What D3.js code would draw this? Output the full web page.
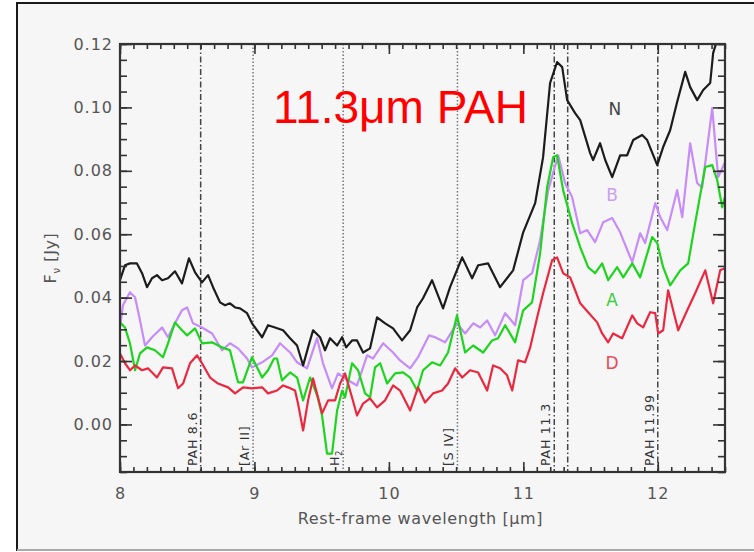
<!DOCTYPE html>
<html>
<head>
<meta charset="utf-8">
<script src="https://cdn.jsdelivr.net/npm/d3@7"></script>
<style>
  body { margin: 0; background: #fff; }
  svg { display: block; }
</style>
</head>
<body>
<div id="chart-area"></div>
<script>
// spectra: wavelength (micron) and flux (Jy)
const nWave = [8.000, 8.037, 8.074, 8.126, 8.164, 8.201, 8.238, 8.275, 8.313, 8.357, 8.409, 8.461, 8.513, 8.558, 8.610, 8.655, 8.692, 8.744, 8.781, 8.818, 8.856, 8.893, 8.945, 8.982, 9.057, 9.101, 9.153, 9.213, 9.265, 9.317, 9.362, 9.399, 9.436, 9.488, 9.525, 9.562, 9.615, 9.652, 9.682, 9.726, 9.763, 9.808, 9.860, 9.912, 9.972, 10.031, 10.098, 10.158, 10.210, 10.254, 10.321, 10.403, 10.455, 10.545, 10.619, 10.664, 10.738, 10.827, 10.924, 10.999, 11.088, 11.147, 11.199, 11.251, 11.289, 11.326, 11.385, 11.423, 11.497, 11.519, 11.571, 11.609, 11.661, 11.720, 11.772, 11.817, 11.884, 11.921, 11.996, 12.040, 12.092, 12.144, 12.204, 12.241, 12.293, 12.338, 12.390, 12.412, 12.442]
const nFlux = [0.0455, 0.0502, 0.0508, 0.0508, 0.0477, 0.0433, 0.0461, 0.0471, 0.0455, 0.0461, 0.0483, 0.0445, 0.0524, 0.0480, 0.0448, 0.0471, 0.0433, 0.0385, 0.0376, 0.0382, 0.0369, 0.0366, 0.0351, 0.0319, 0.0275, 0.0313, 0.0306, 0.0297, 0.0272, 0.0249, 0.0186, 0.0243, 0.0297, 0.0275, 0.0234, 0.0272, 0.0249, 0.0275, 0.0243, 0.0265, 0.0265, 0.0227, 0.0240, 0.0338, 0.0319, 0.0303, 0.0265, 0.0297, 0.0369, 0.0398, 0.0455, 0.0366, 0.0433, 0.0527, 0.0461, 0.0502, 0.0508, 0.0433, 0.0486, 0.0606, 0.0698, 0.0843, 0.1077, 0.1143, 0.1127, 0.1023, 0.0982, 0.0960, 0.0856, 0.0834, 0.0887, 0.0834, 0.0780, 0.0849, 0.0849, 0.0897, 0.0913, 0.0897, 0.0818, 0.0875, 0.0928, 0.1017, 0.1112, 0.1064, 0.1023, 0.1055, 0.1077, 0.1172, 0.1213]

const bWave = [8.000, 8.022, 8.074, 8.112, 8.149, 8.186, 8.238, 8.313, 8.357, 8.409, 8.461, 8.499, 8.543, 8.610, 8.685, 8.759, 8.818, 8.878, 8.945, 8.982, 9.057, 9.131, 9.190, 9.265, 9.317, 9.391, 9.466, 9.510, 9.577, 9.622, 9.674, 9.763, 9.838, 9.882, 9.957, 10.031, 10.083, 10.158, 10.217, 10.299, 10.344, 10.418, 10.507, 10.567, 10.627, 10.679, 10.731, 10.790, 10.865, 10.939, 10.999, 11.065, 11.125, 11.185, 11.259, 11.311, 11.363, 11.423, 11.475, 11.534, 11.594, 11.661, 11.720, 11.810, 11.869, 11.906, 11.981, 12.018, 12.070, 12.144, 12.182, 12.241, 12.293, 12.330, 12.405, 12.449, 12.500]
const bFlux = [0.0306, 0.0376, 0.0417, 0.0401, 0.0328, 0.0249, 0.0275, 0.0306, 0.0275, 0.0319, 0.0360, 0.0369, 0.0319, 0.0306, 0.0287, 0.0234, 0.0256, 0.0240, 0.0208, 0.0180, 0.0196, 0.0218, 0.0256, 0.0227, 0.0196, 0.0177, 0.0272, 0.0193, 0.0114, 0.0161, 0.0145, 0.0123, 0.0218, 0.0208, 0.0256, 0.0227, 0.0202, 0.0177, 0.0212, 0.0281, 0.0275, 0.0259, 0.0319, 0.0287, 0.0319, 0.0306, 0.0328, 0.0281, 0.0351, 0.0313, 0.0455, 0.0477, 0.0581, 0.0739, 0.0849, 0.0761, 0.0717, 0.0603, 0.0613, 0.0575, 0.0638, 0.0651, 0.0606, 0.0512, 0.0603, 0.0572, 0.0698, 0.0654, 0.0613, 0.0739, 0.0654, 0.0887, 0.0761, 0.0748, 0.0998, 0.0780, 0.0827]

const aWave = [8.000, 8.037, 8.074, 8.112, 8.149, 8.201, 8.260, 8.320, 8.357, 8.409, 8.461, 8.499, 8.558, 8.610, 8.685, 8.759, 8.818, 8.878, 8.915, 8.982, 9.057, 9.101, 9.146, 9.168, 9.205, 9.265, 9.317, 9.362, 9.414, 9.466, 9.503, 9.540, 9.577, 9.615, 9.652, 9.674, 9.726, 9.771, 9.823, 9.860, 9.897, 9.935, 9.987, 10.046, 10.106, 10.158, 10.210, 10.254, 10.321, 10.381, 10.440, 10.507, 10.567, 10.627, 10.701, 10.768, 10.812, 10.865, 10.939, 10.999, 11.065, 11.125, 11.177, 11.222, 11.251, 11.296, 11.363, 11.423, 11.482, 11.534, 11.586, 11.631, 11.698, 11.743, 11.810, 11.869, 11.958, 11.996, 12.040, 12.092, 12.167, 12.226, 12.278, 12.353, 12.405, 12.442, 12.479, 12.500]
const aFlux = [0.0322, 0.0306, 0.0256, 0.0171, 0.0224, 0.0243, 0.0234, 0.0212, 0.0256, 0.0322, 0.0297, 0.0281, 0.0303, 0.0256, 0.0259, 0.0243, 0.0234, 0.0133, 0.0133, 0.0212, 0.0148, 0.0171, 0.0208, 0.0208, 0.0139, 0.0164, 0.0148, 0.0076, 0.0148, 0.0092, 0.0028, -0.0092, -0.0092, 0.0044, 0.0107, 0.0085, 0.0193, 0.0171, 0.0098, 0.0085, 0.0180, 0.0193, 0.0129, 0.0161, 0.0164, 0.0148, 0.0107, 0.0171, 0.0196, 0.0186, 0.0227, 0.0344, 0.0227, 0.0249, 0.0227, 0.0265, 0.0272, 0.0313, 0.0259, 0.0360, 0.0385, 0.0540, 0.0748, 0.0843, 0.0849, 0.0739, 0.0635, 0.0559, 0.0496, 0.0477, 0.0508, 0.0455, 0.0496, 0.0464, 0.0508, 0.0464, 0.0591, 0.0572, 0.0496, 0.0439, 0.0486, 0.0508, 0.0635, 0.0812, 0.0818, 0.0771, 0.0685, 0.0717]

const dWave = [8.000, 8.037, 8.074, 8.112, 8.164, 8.208, 8.275, 8.320, 8.387, 8.432, 8.469, 8.521, 8.573, 8.610, 8.670, 8.729, 8.804, 8.856, 8.915, 8.982, 9.057, 9.101, 9.168, 9.213, 9.250, 9.302, 9.324, 9.362, 9.399, 9.436, 9.473, 9.503, 9.548, 9.600, 9.637, 9.674, 9.726, 9.763, 9.808, 9.860, 9.912, 9.972, 10.031, 10.083, 10.158, 10.217, 10.269, 10.329, 10.396, 10.440, 10.493, 10.545, 10.604, 10.664, 10.731, 10.775, 10.827, 10.879, 10.917, 10.961, 11.013, 11.051, 11.103, 11.147, 11.214, 11.251, 11.296, 11.348, 11.371, 11.423, 11.482, 11.549, 11.586, 11.631, 11.668, 11.735, 11.810, 11.847, 11.891, 11.943, 11.981, 12.003, 12.040, 12.077, 12.152, 12.219, 12.278, 12.353, 12.412, 12.464, 12.500]
const dFlux = [0.0224, 0.0193, 0.0171, 0.0186, 0.0171, 0.0177, 0.0148, 0.0180, 0.0177, 0.0114, 0.0129, 0.0193, 0.0218, 0.0193, 0.0148, 0.0129, 0.0117, 0.0098, 0.0117, 0.0114, 0.0117, 0.0098, 0.0107, 0.0123, 0.0117, 0.0107, 0.0066, -0.0019, 0.0076, 0.0145, 0.0085, 0.0035, 0.0076, 0.0076, 0.0129, 0.0161, 0.0085, 0.0028, 0.0066, 0.0082, 0.0054, 0.0076, 0.0123, 0.0107, 0.0044, 0.0117, 0.0069, 0.0098, 0.0107, 0.0129, 0.0177, 0.0148, 0.0171, 0.0164, 0.0107, 0.0186, 0.0177, 0.0155, 0.0107, 0.0202, 0.0196, 0.0243, 0.0338, 0.0414, 0.0518, 0.0527, 0.0477, 0.0464, 0.0439, 0.0382, 0.0354, 0.0322, 0.0287, 0.0259, 0.0287, 0.0272, 0.0344, 0.0319, 0.0306, 0.0354, 0.0351, 0.0287, 0.0297, 0.0423, 0.0297, 0.0360, 0.0414, 0.0486, 0.0382, 0.0486, 0.0493]

// feature lines
const lineWaves = [8.6, 8.99, 9.66, 10.51, 11.23, 11.33, 12.0]
const lineLabels = ["PAH 8.6", "[Ar II]", "H2", "[S IV]", "PAH 11.3", "", "PAH 11.99"]
const lineDotted = [false, true, true, true, false, false, false]

const seriesNames = ["N", "B", "A", "D"]
const seriesColors = ["#1c1c1c", "#c68cf8", "#1ed41e", "#ea2840"]
const labelColors = ["#444", "#c9a0f2", "#3ccc3c", "#e84a5a"]
const labelWave = [11.68, 11.66, 11.66, 11.66]
const labelFlux = [0.0975, 0.0705, 0.0375, 0.0175]

const xTicks = [8, 9, 10, 11, 12]
const yTicks = [0, 0.02, 0.04, 0.06, 0.08, 0.10, 0.12]

const W = 754, H = 552
const PLOT = { LEFT: 120, RIGHT: 725, TOP: 44, BOTTOM: 472 }

const svg = d3.select("#chart-area").append("svg")
  .attr("width", W)
  .attr("height", H)

// frame
svg.append("rect")
  .attr("x", 17).attr("y", 3)
  .attr("width", W).attr("height", 547)
  .attr("fill", "#f6f6f6")
  .attr("stroke", "#1a1a1a")
  .attr("stroke-width", 2)
svg.append("line")
  .attr("x1", 17).attr("x2", W)
  .attr("y1", 550).attr("y2", 550)
  .attr("stroke", "#aaa").attr("stroke-width", 2)

const x = d3.scaleLinear().domain([8, 12.5]).range([PLOT.LEFT, PLOT.RIGHT])
const y = d3.scaleLinear().domain([-0.015, 0.12]).range([PLOT.BOTTOM, PLOT.TOP])

svg.append("clipPath").attr("id", "clip")
  .append("rect")
  .attr("x", PLOT.LEFT).attr("y", PLOT.TOP)
  .attr("width", PLOT.RIGHT - PLOT.LEFT).attr("height", PLOT.BOTTOM - PLOT.TOP)

// feature lines
const feat = svg.append("g")
lineWaves.forEach((w, i) => {
  feat.append("line")
    .attr("x1", x(w)).attr("x2", x(w))
    .attr("y1", PLOT.TOP).attr("y2", PLOT.BOTTOM)
    .attr("stroke", lineDotted[i] ? "#777" : "#444")
    .attr("stroke-width", 1.5)
    .attr("stroke-dasharray", lineDotted[i] ? "1.5,2" : "6,2.5,1.5,2.5")
  if (lineLabels[i]) {
    const t = feat.append("text")
      .attr("transform", `translate(${x(w) - 4}, ${PLOT.BOTTOM - 6}) rotate(-90)`)
      .attr("font-family", "DejaVu Sans")
      .attr("font-size", 12.5)
      .attr("letter-spacing", 0.8)
      .attr("fill", "#333")
    if (lineLabels[i] === "H2") {
      t.append("tspan").text("H")
      t.append("tspan").attr("font-size", 8).attr("dy", 3).text("2")
    } else {
      t.text(lineLabels[i])
    }
  }
})

// spectra
const lineGen = d3.line()
  .x(d => x(d[0]))
  .y(d => y(d[1]))

const spectra = [
  d3.zip(nWave, nFlux),
  d3.zip(bWave, bFlux),
  d3.zip(aWave, aFlux),
  d3.zip(dWave, dFlux)
]
const drawOrder = [1, 0, 2, 3]
const g = svg.append("g").attr("clip-path", "url(#clip)")
drawOrder.forEach(i => {
  g.append("path")
    .datum(spectra[i])
    .attr("fill", "none")
    .attr("stroke", seriesColors[i])
    .attr("stroke-width", 2.2)
    .attr("stroke-linejoin", "round")
    .attr("d", lineGen)
})

// series letters
seriesNames.forEach((s, i) => {
  svg.append("text")
    .attr("x", x(labelWave[i])).attr("y", y(labelFlux[i]))
    .attr("text-anchor", "middle")
    .attr("font-family", "DejaVu Sans")
    .attr("font-size", 17)
    .attr("fill", labelColors[i])
    .text(s)
})

// axes: major and minor ticks on all four sides, pointing inward
function styleAxis(sel) {
  sel.select(".domain").remove()
  sel.selectAll("line").attr("stroke", "#333").attr("stroke-width", 1.6)
  sel.selectAll("text")
    .attr("font-family", "DejaVu Sans")
    .attr("font-size", 16)
    .attr("letter-spacing", 1)
    .attr("fill", "#555")
}
const xMinor = d3.range(8, 12.51, 0.1)
const yMinor = d3.range(-0.015, 0.1201, 0.005)

svg.append("g")
  .attr("transform", `translate(0, ${PLOT.BOTTOM})`)
  .call(d3.axisBottom(x).tickValues(xTicks).tickSizeInner(-10).tickSizeOuter(0).tickPadding(16).tickFormat(d3.format("d")))
  .call(styleAxis)
svg.append("g")
  .attr("transform", `translate(0, ${PLOT.BOTTOM})`)
  .call(d3.axisBottom(x).tickValues(xMinor).tickSize(-5).tickFormat(""))
  .call(styleAxis)
svg.append("g")
  .attr("transform", `translate(0, ${PLOT.TOP})`)
  .call(d3.axisTop(x).tickValues(xTicks).tickSize(-10).tickFormat(""))
  .call(styleAxis)
svg.append("g")
  .attr("transform", `translate(0, ${PLOT.TOP})`)
  .call(d3.axisTop(x).tickValues(xMinor).tickSize(-5).tickFormat(""))
  .call(styleAxis)

svg.append("g")
  .attr("transform", `translate(${PLOT.LEFT}, 0)`)
  .call(d3.axisLeft(y).tickValues(yTicks).tickSizeInner(-12).tickSizeOuter(0).tickPadding(7).tickFormat(d3.format(".2f")))
  .call(styleAxis)
svg.append("g")
  .attr("transform", `translate(${PLOT.LEFT}, 0)`)
  .call(d3.axisLeft(y).tickValues(yMinor).tickSize(-7).tickFormat(""))
  .call(styleAxis)
svg.append("g")
  .attr("transform", `translate(${PLOT.RIGHT}, 0)`)
  .call(d3.axisRight(y).tickValues(yTicks).tickSize(-12).tickFormat(""))
  .call(styleAxis)
svg.append("g")
  .attr("transform", `translate(${PLOT.RIGHT}, 0)`)
  .call(d3.axisRight(y).tickValues(yMinor).tickSize(-7).tickFormat(""))
  .call(styleAxis)

svg.append("rect")
  .attr("x", PLOT.LEFT).attr("y", PLOT.TOP)
  .attr("width", PLOT.RIGHT - PLOT.LEFT).attr("height", PLOT.BOTTOM - PLOT.TOP)
  .attr("fill", "none")
  .attr("stroke", "#333")
  .attr("stroke-width", 2.2)

// axis titles
svg.append("text")
  .attr("x", (PLOT.LEFT + PLOT.RIGHT) / 2 - 2)
  .attr("y", 524)
  .attr("text-anchor", "middle")
  .attr("font-family", "DejaVu Sans")
  .attr("font-size", 16)
  .attr("letter-spacing", 0.6)
  .attr("fill", "#555")
  .text("Rest-frame wavelength [\u03bcm]")

const yt = svg.append("text")
  .attr("transform", "translate(56, 258) rotate(-90)")
  .attr("text-anchor", "middle")
  .attr("font-family", "DejaVu Sans")
  .attr("font-size", 16)
  .attr("letter-spacing", 0.6)
  .attr("fill", "#555")
yt.append("tspan").text("F")
yt.append("tspan").attr("font-size", 10).attr("dy", 4).text("\u03bd")
yt.append("tspan").attr("dy", -4).text(" [Jy]")

// title
svg.append("text")
  .attr("x", 273).attr("y", 123)
  .attr("font-family", "Liberation Sans, Arial, sans-serif")
  .attr("font-size", 46)
  .attr("fill", "#ff0000")
  .text("11.3\u03bcm PAH")
</script>
</body>
</html>
